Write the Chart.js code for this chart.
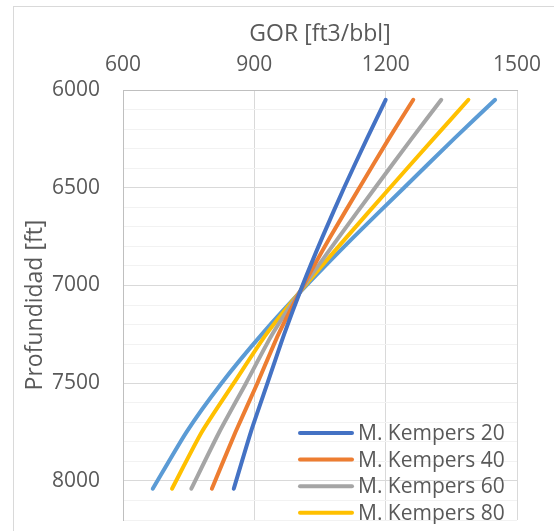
<!DOCTYPE html>
<html>
<head>
<meta charset="utf-8">
<script src="https://cdn.jsdelivr.net/npm/chart.js@4"></script>
<style>
  html, body { margin: 0; padding: 0; background: #fff; overflow: hidden; width: 554px; height: 531px; }
  #frame { position: absolute; left: 13px; top: 6px; width: 600px; height: 600px; border: 1px solid #d9d9d9; box-sizing: border-box; }
  #myChart { position: absolute; left: 0; top: 0; }
</style>
</head>
<body>
<div id="frame"></div>
<canvas id="myChart" width="554" height="560"></canvas>
<script>
// profundidad [ft] de cada punto leido
const depth = [6050, 6250, 6500, 6750, 7000, 7250, 7500, 7750, 8040];
// GOR [ft3/bbl] por serie
const mk20 = [1200, 1157, 1105, 1056, 1010, 968, 930, 892, 853];
const mk40 = [1263, 1207, 1140, 1074, 1012, 955, 907, 857, 803];
const mk60 = [1327, 1259, 1176, 1094, 1014, 941, 881, 820, 756];
const mk80 = [1389, 1309, 1210, 1112, 1016, 927, 853, 780, 712];
const mk100 = [1450, 1356, 1242, 1128, 1019, 917, 825, 745, 668];

const seriesNames = ['M. Kempers 20', 'M. Kempers 40', 'M. Kempers 60', 'M. Kempers 80', 'M. Kempers 100'];
const seriesValues = [mk20, mk40, mk60, mk80, mk100];
const seriesColors = ['#4472C4', '#ED7D31', '#A5A5A5', '#FFC000', '#5B9BD5'];

const xTicks = [600, 900, 1200, 1500];
const yTicks = [6000, 6500, 7000, 7500, 8000];

const textColor = '#595959';
Chart.defaults.font.family = "'Open Sans', sans-serif";
Chart.defaults.color = textColor;

// leyenda dentro del area del grafico (abajo a la derecha), recortada como en Excel
const insideLegend = {
    id: 'insideLegend',
    afterDraw(chart) {
        const ctx = chart.ctx;
        const area = chart.chartArea;
        ctx.save();
        ctx.beginPath();
        ctx.rect(0, 0, chart.width, area.bottom + 4);
        ctx.clip();
        ctx.font = "21px 'Open Sans', sans-serif";
        ctx.textBaseline = 'middle';
        ctx.fillStyle = textColor;
        chart.data.datasets.forEach((ds, i) => {
            const y = area.bottom - 87 + i * 26.6;
            ctx.strokeStyle = ds.borderColor;
            ctx.lineWidth = 4;
            ctx.lineCap = 'round';
            ctx.beginPath();
            ctx.moveTo(area.left + 177, y);
            ctx.lineTo(area.left + 229, y);
            ctx.stroke();
            ctx.fillText(ds.label, area.left + 235, y + 1);
        });
        ctx.restore();
    }
};

const datasets = seriesNames.map((name, i) => ({
    label: name,
    data: depth.map((d, j) => ({ x: seriesValues[i][j], y: d })),
    borderColor: seriesColors[i],
    backgroundColor: seriesColors[i],
    borderWidth: 4,
    borderCapStyle: 'round',
    showLine: true,
    pointRadius: 0,
    tension: 0.2
}));

new Chart(document.getElementById('myChart'), {
    type: 'scatter',
    data: { datasets },
    options: {
        responsive: false,
        animation: false,
        layout: { padding: { left: 0, top: 0, right: 37, bottom: 40 } },
        plugins: {
            legend: { display: false },
            tooltip: { enabled: false }
        },
        scales: {
            x: {
                type: 'linear',
                position: 'top',
                min: 600,
                max: 1500,
                afterBuildTicks: (scale) => { scale.ticks = xTicks.map(v => ({ value: v })); },
                afterFit: (scale) => { scale.height = 90; },
                ticks: { padding: 12, font: { size: 21 }, color: textColor, callback: (v) => String(v) },
                grid: { color: '#d9d9d9', drawTicks: false },
                border: { color: '#bfbfbf' },
                title: {
                    display: true,
                    text: 'GOR [ft3/bbl]',
                    font: { size: 23 },
                    color: textColor,
                    padding: { top: 21, bottom: 0 }
                }
            },
            y: {
                type: 'linear',
                reverse: true,
                min: 6000,
                max: 8200,
                afterFit: (scale) => { scale.width = 123; },
                ticks: {
                    stepSize: 100,
                    maxTicksLimit: 100,
                    autoSkip: false,
                    padding: 23,
                    font: { size: 21 },
                    color: textColor,
                    callback: (v) => yTicks.includes(v) ? String(v) : ''
                },
                grid: {
                    drawTicks: false,
                    color: (c) => (c.tick && yTicks.includes(c.tick.value)) ? '#d9d9d9' : '#f2f2f2'
                },
                border: { color: '#bfbfbf' },
                title: {
                    display: true,
                    text: 'Profundidad [ft]',
                    font: { size: 23 },
                    color: textColor,
                    padding: { top: 22, bottom: 0 }
                }
            }
        }
    },
    plugins: [insideLegend]
});
</script>
</body>
</html>
